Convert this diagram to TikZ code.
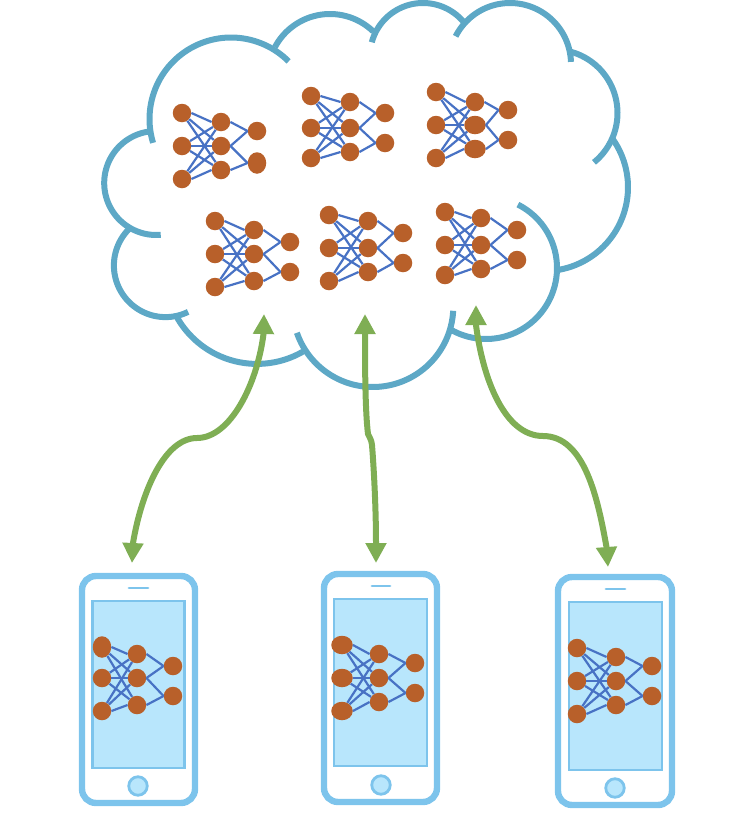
\documentclass[tikz,border=0pt]{standalone}
\usetikzlibrary{arrows.meta,shapes.geometric}
\definecolor{cloudblue}{RGB}{93,168,198}
\definecolor{arrowgreen}{RGB}{127,174,84}
\definecolor{neuronfill}{RGB}{184,96,42}
\definecolor{edgeblue}{RGB}{72,114,196}
\definecolor{phoneline}{RGB}{125,196,236}
\definecolor{screenfill}{RGB}{184,230,252}
\tikzset{
  cloudarc/.style={draw=cloudblue,line width=6pt,line cap=butt},
  neuron/.style={circle,fill=neuronfill,inner sep=0pt,minimum size=18.5pt,draw=none},
  tallneuron/.style={ellipse,minimum width=18.5pt,minimum height=21.5pt},
  wideneuron/.style={ellipse,minimum width=21.5pt,minimum height=18.5pt},
  synapse/.style={draw=edgeblue,line width=2.2pt},
  linkarrow/.style={draw=arrowgreen,line width=6pt,
    {Triangle[width=20pt,length=20pt,fill=arrowgreen]}-{Triangle[width=20pt,length=20pt,fill=arrowgreen]}},
  phonebody/.style={draw=phoneline,line width=6.4pt,fill=white,rounded corners=14pt},
  phonescreen/.style={draw=phoneline,line width=2.6pt,fill=screenfill},
  phonespeaker/.style={draw=phoneline,line width=2.8pt,line cap=round},
  phonehome/.style={draw=phoneline,line width=2.8pt,fill=screenfill,circle,minimum size=18.5pt,inner sep=0pt},
  n1h/.style={tallneuron}, n3e/.style={wideneuron}, n3f/.style={wideneuron},
  p1a/.style={tallneuron}, p2a/.style={wideneuron}, p2b/.style={wideneuron}, p2c/.style={wideneuron},
}
% circular arc of the cloud: cx, cy, r, from angle, to angle
\newcommand{\cloudpart}[5]{%
  \draw[cloudarc] plot[domain=#4:#5,samples=60,variable=\a] ({#1+#3*cos(\a)},{#2-#3*sin(\a)});}
% network: name; x1,y,y,y; x2,y,y,y,x3/y/y
\newcommand{\nnet}[3]{\def\nname{#1}\nnetparse#2;#3;}
\def\nnetparse#1,#2,#3,#4;#5,#6,#7,#8,#9;{%
  \node[neuron,\nname a/.try] (\nname a) at (#1,#2) {};
  \node[neuron,\nname b/.try] (\nname b) at (#1,#3) {};
  \node[neuron,\nname c/.try] (\nname c) at (#1,#4) {};
  \node[neuron,\nname d/.try] (\nname d) at (#5,#6) {};
  \node[neuron,\nname e/.try] (\nname e) at (#5,#7) {};
  \node[neuron,\nname f/.try] (\nname f) at (#5,#8) {};
  \nnetlast#9;}
\def\nnetlast#1/#2/#3;{%
  \node[neuron,\nname g/.try] (\nname g) at (#1,#2) {};
  \node[neuron,\nname h/.try] (\nname h) at (#1,#3) {};
  \foreach \s/\t in {a/e,a/f,b/d,b/f,c/d,c/e}
    \draw[synapse] (\nname\s) -- (\nname\t);
  \foreach \s/\t in {a/d,b/e,c/f,d/g,e/g,e/h,f/h}
    \draw[synapse] (\nname\s.east) -- (\nname\t.west);}
% phone: name; body; screen; speaker; home position
\newcommand{\phone}[5]{%
  \draw[phonebody] #2;
  \draw[phonescreen] #3;
  \draw[phonespeaker] #4;
  \node[phonehome] (#1home) at #5 {};}
\begin{document}
\begin{tikzpicture}[x=1pt,y=-1pt]
\useasboundingbox (0,0) rectangle (750,836);
% cloud
\cloudpart{231}{119}{81.5}{197}{45}
\cloudpart{330}{76.3}{62.3}{152}{46}
\cloudpart{423}{56}{53}{165}{38}
\cloudpart{510}{64}{61}{153}{2}
\cloudpart{554}{113}{63.5}{75}{-51}
\cloudpart{544.2}{187.3}{83.8}{36}{-80.5}
\cloudpart{486}{268}{71}{63.3}{-119.7}
\cloudpart{372.9}{306.6}{80.4}{-3}{-161}
\cloudpart{257}{271.9}{92}{-60}{-150}
\cloudpart{165.5}{265.5}{51.6}{-64}{-226.6}
\cloudpart{156.2}{183}{52}{-85}{-265.4}
% phones
\phone{pa}{(82,576) rectangle (195,803)}{(92.5,601) rectangle (184.5,768)}{(129,588) -- (148,588)}{(138,786)}
\phone{pb}{(324,574) rectangle (437,802)}{(334,599) rectangle (427,766)}{(372,586) -- (390,586)}{(381,785)}
\phone{pc}{(558,577) rectangle (672,805)}{(569,602) rectangle (662,770)}{(606,589) -- (625,589)}{(615,788)}
% networks
\nnet{n1}{182,113,146,179}{221,122,146,170,257/131/163}
\nnet{n2}{311,96,128,158}{350,102,128,152,385/113/143}
\nnet{n3}{436,92,125,158}{475,102,125,149,508/110/140}
\nnet{n4}{215,221,254,287}{254,230,254,281,290/242/272}
\nnet{n5}{329,215,248,281}{368,221,248,272,403/233/263}
\nnet{n6}{445,212,245,275}{481,218,245,269,517/230/260}
\nnet{p1}{102,647,678,711}{137,654,678,705,173/666/696}
\nnet{p2}{342,645,678,711}{379,654,678,702,415/663/693}
\nnet{p3}{577,648,681,714}{616,657,681,705,652/666/696}
% arrows
\coordinate (at) at (264,314); \coordinate (ab) at (132,563);
\coordinate (am) at (197,438);
\coordinate (bt) at (365,314); \coordinate (bb) at (376,563);
\coordinate (bm) at (372,445);
\coordinate (ct) at (476,305); \coordinate (cb) at (608,567);
\coordinate (cm) at (543,436);
\draw[linkarrow] (at) -- (263.5,334) .. controls (257,385) and (230,438) .. (am) .. controls (165,438) and (142,490) .. (133,543) -- (ab);
\draw[linkarrow] (bt) -- (365,334) .. controls (365,360) and (365,410) .. (368,434) .. controls (369,437) and (371,438) .. (bm) .. controls (374,470) and (376,510) .. (376,543) -- (bb);
\draw[linkarrow] (ct) -- (476,325) .. controls (483,380) and (505,436) .. (cm) .. controls (585,436) and (598,500) .. (606.5,547) -- (cb);
\end{tikzpicture}
\end{document}
